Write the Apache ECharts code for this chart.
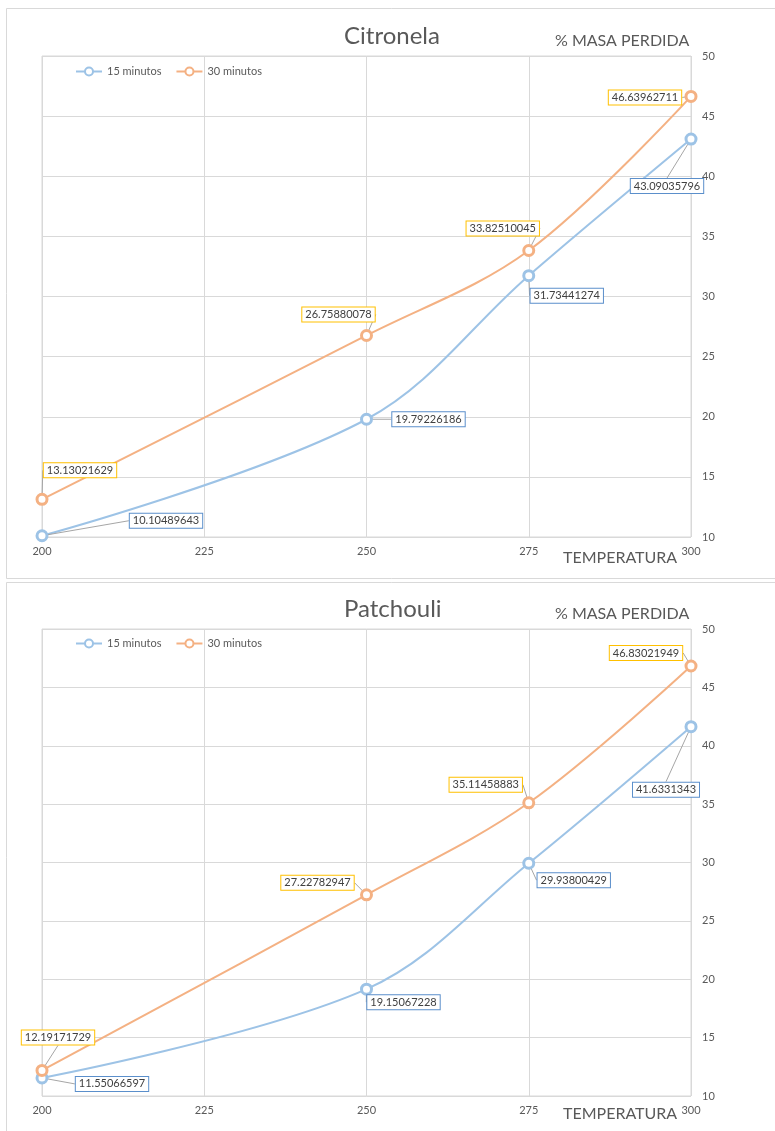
<!DOCTYPE html>
<html>
<head>
<meta charset="utf-8">
<script src="https://cdn.jsdelivr.net/npm/echarts/dist/echarts.min.js"></script>
<style>
  html, body { margin: 0; padding: 0; background: #fff; }
  #chart { width: 775px; height: 1131px; }
</style>
</head>
<body>
<div id="chart"></div>
<script>
// datos
var temperaturas = [200, 250, 275, 300];
var citronela15 = [10.10489643, 19.79226186, 31.73441274, 43.09035796];
var citronela30 = [13.13021629, 26.75880078, 33.82510045, 46.63962711];
var patchouli15 = [11.55066597, 19.15067228, 29.93800429, 41.6331343];
var patchouli30 = [12.19171729, 27.22782947, 35.11458883, 46.83021949];

// desplazamiento de las etiquetas (px) respecto al punto
var offC15 = [[124, -15], [62, 0], [38, 20], [-24, 47]];
var offC30 = [[38, -29], [-28, -21], [-26, -22], [-46, 1]];
var offP15 = [[70, 6], [37, 13], [45, 17], [-25, 63]];
var offP30 = [[16, -33], [-49, -12], [-43, -18], [-45, -13]];

var AZUL = "#9DC3E6";
var NARANJA = "#F4B183";
var GRIS = "#595959";
var FUENTE = "Lato, 'Open Sans', sans-serif";

function pares(vals) {
  return vals.map(function(v, i) { return [temperaturas[i], v]; });
}

function serie(nombre, vals, color, borde, offs, idx) {
  return {
    name: nombre,
    type: "line",
    xAxisIndex: idx,
    yAxisIndex: idx,
    smooth: 0.35,
    symbol: "circle",
    symbolSize: 10,
    data: pares(vals),
    lineStyle: { color: color, width: 2 },
    itemStyle: { color: "#fff", borderColor: color, borderWidth: 3 },
    label: {
      show: true,
      position: "inside",
      formatter: function(p) { return p.value[1]; },
      color: "#404040",
      fontSize: 11,
      fontFamily: FUENTE,
      backgroundColor: "#fff",
      borderColor: borde,
      borderWidth: 1,
      padding: [2, 3, 1, 3]
    },
    labelLine: { show: true, lineStyle: { color: "#a6a6a6", width: 1 } },
    labelLayout: function(p) {
      var o = offs[p.dataIndex];
      return { dx: o[0], dy: o[1] };
    },
    z: 3
  };
}

function ejes(idx) {
  return {
    x: {
      type: "value",
      gridIndex: idx,
      min: 200,
      max: 300,
      interval: 25,
      axisLine: { show: false },
      axisTick: { show: false },
      splitLine: { lineStyle: { color: "#d9d9d9", width: 1 } },
      axisLabel: { color: GRIS, fontSize: 11, fontFamily: FUENTE, margin: 9 }
    },
    y: {
      type: "value",
      gridIndex: idx,
      position: "right",
      min: 10,
      max: 50,
      interval: 5,
      axisLine: { show: false },
      axisTick: { show: false },
      splitLine: { lineStyle: { color: "#d9d9d9", width: 1 } },
      axisLabel: { color: GRIS, fontSize: 11, fontFamily: FUENTE, margin: 11 }
    }
  };
}

function texto(t, x, y, size) {
  return {
    type: "text", left: x, top: y,
    style: { text: t, fill: GRIS, fontSize: size, fontFamily: FUENTE }
  };
}

function leyenda(top) {
  return {
    left: 70, top: top, itemWidth: 26, itemHeight: 10, itemGap: 14,
    textStyle: { color: GRIS, fontSize: 11, fontFamily: FUENTE },
    data: ["15 minutos", "30 minutos"]
  };
}

var e0 = ejes(0), e1 = ejes(1);

var chart = echarts.init(document.getElementById("chart"), null, { renderer: "canvas" });
var option = {
  animation: false,
  backgroundColor: "#fff",
  grid: [
    { left: 42, top: 56, width: 649, height: 481, show: true, borderColor: "#d9d9d9", borderWidth: 1 },
    { left: 42, top: 629, width: 649, height: 467, show: true, borderColor: "#d9d9d9", borderWidth: 1 }
  ],
  legend: [leyenda(61), leyenda(633)],
  xAxis: [e0.x, e1.x],
  yAxis: [e0.y, e1.y],
  graphic: [
    { type: "rect", shape: { x: 6.5, y: 8.5, width: 800, height: 570 },
      style: { fill: null, stroke: "#d9d9d9", lineWidth: 1 }, z: -1 },
    { type: "rect", shape: { x: 6.5, y: 582.5, width: 800, height: 600 },
      style: { fill: null, stroke: "#d9d9d9", lineWidth: 1 }, z: -1 },
    texto("Citronela", 344, 24, 24),
    texto("% MASA PERDIDA", 555, 33, 16),
    texto("TEMPERATURA", 563, 550, 16),
    texto("Patchouli", 344, 597, 24),
    texto("% MASA PERDIDA", 555, 606, 16),
    texto("TEMPERATURA", 563, 1106, 16)
  ],
  series: [
    serie("15 minutos", citronela15, AZUL, "#5B8FCB", offC15, 0),
    serie("30 minutos", citronela30, NARANJA, "#FFC000", offC30, 0),
    serie("15 minutos", patchouli15, AZUL, "#5B8FCB", offP15, 1),
    serie("30 minutos", patchouli30, NARANJA, "#FFC000", offP30, 1)
  ]
};
chart.setOption(option);
</script>
</body>
</html>
